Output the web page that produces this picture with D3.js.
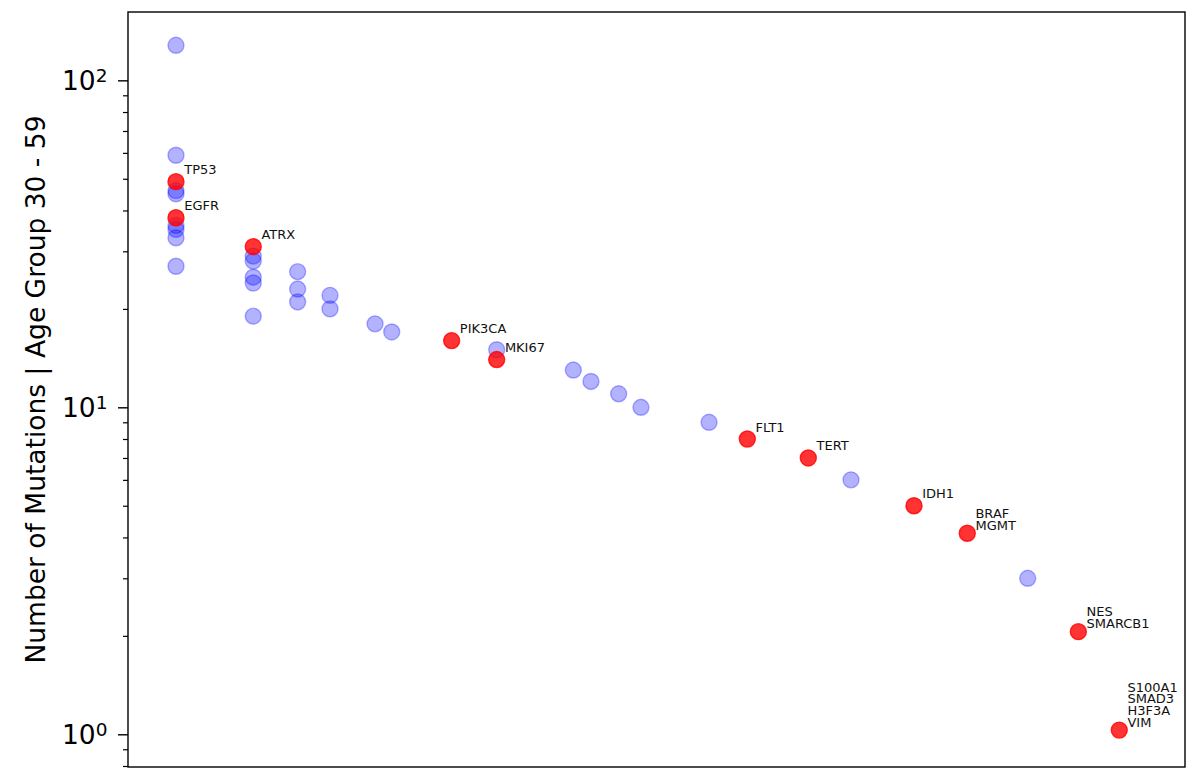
<!DOCTYPE html>
<html>
<head>
<meta charset="utf-8">
<script src="https://cdn.jsdelivr.net/npm/d3@7"></script>
<style>
  html, body { margin: 0; padding: 0; background: #fff; }
  svg { display: block; font-family: "DejaVu Sans", Verdana, sans-serif; }
</style>
</head>
<body>
<svg id="chart" width="1198" height="769"></svg>
<script>
// ---- data ----
// x: arbitrary position along the (unlabelled) horizontal axis, 0..100
const blueX = [4.54, 4.54, 4.54, 4.54, 4.54, 4.54, 4.54, 4.54,
               11.85, 11.85, 11.85, 11.85, 11.85,
               16.05, 16.05, 16.05,
               19.11, 19.11,
               23.37, 24.95,
               34.88,
               42.13, 43.80, 46.42, 48.53,
               54.97, 68.40, 85.12];
const blueY = [128, 59, 46, 45, 36, 35, 33, 27,
               29, 28, 25, 24, 19,
               26, 23, 21,
               22, 20,
               18, 17,
               15,
               13, 12, 11, 10,
               9, 6, 3];

const redLabels = [["TP53"], ["EGFR"], ["ATRX"], ["PIK3CA"], ["MKI67"], ["FLT1"], ["TERT"],
                   ["IDH1"], ["BRAF", "MGMT"], ["NES", "SMARCB1"],
                   ["S100A1", "SMAD3", "H3F3A", "VIM"]];
const redX = [4.54, 4.54, 11.85, 30.62, 34.88, 58.59, 64.36, 74.36, 79.40, 89.91, 93.78];
const redY = [49, 38, 31, 16, 14, 8, 7, 5, 4.12, 2.06, 1.03];

const yTicks = [1, 10, 100];
const yTickExp = ["0", "1", "2"];
const yLabel = "Number of Mutations | Age Group 30 - 59";

// ---- layout ----
const svg = d3.select("#chart");
const plot = { left: 128, right: 1185, top: 12, bottom: 767 };

const x = d3.scaleLinear().domain([0, 100]).range([plot.left, plot.right]);
const y = d3.scaleLog().domain([Math.pow(10, -0.1), Math.pow(10, 2.209)])
            .range([plot.bottom, plot.top]);

// minor ticks
const minor = [];
for (let e = -1; e <= 2; e++) {
  for (let m = 2; m <= 9; m++) {
    const v = m * Math.pow(10, e);
    if (v >= y.domain()[0] && v <= y.domain()[1]) minor.push(v);
  }
}

const gMinor = svg.append("g").attr("transform", `translate(${plot.left},0)`)
  .call(d3.axisLeft(y).tickValues(minor).tickSize(5).tickFormat(""));
gMinor.select(".domain").remove();
gMinor.selectAll("line").attr("stroke", "#000").attr("stroke-width", 1.2);

const gMajor = svg.append("g").attr("transform", `translate(${plot.left},0)`)
  .call(d3.axisLeft(y).tickValues(yTicks).tickSize(10).tickFormat(""));
gMajor.select(".domain").remove();
gMajor.selectAll("line").attr("stroke", "#000").attr("stroke-width", 1.4);

// tick labels with superscripts
const tl = svg.append("g").selectAll("text").data(yTicks).join("text")
  .attr("x", plot.left - 20.5)
  .attr("y", d => y(d) + 9.7)
  .attr("text-anchor", "end")
  .attr("font-size", 26.5)
  .attr("fill", "#000");
tl.append("tspan").text("10");
tl.append("tspan").attr("font-size", 18.5).attr("dy", -8.5).text((d, i) => yTickExp[i]);

// points: blue then red
svg.append("g").selectAll("circle").data(blueX).join("circle")
  .attr("cx", d => x(d))
  .attr("cy", (d, i) => y(blueY[i]))
  .attr("r", 8)
  .attr("fill", "rgba(0,0,255,0.3)")
  .attr("stroke", "rgba(0,0,255,0.3)")
  .attr("stroke-width", 1.4);

svg.append("g").selectAll("circle").data(redX).join("circle")
  .attr("cx", d => x(d))
  .attr("cy", (d, i) => y(redY[i]))
  .attr("r", 8)
  .attr("fill", "rgba(255,0,0,0.8)")
  .attr("stroke", "rgba(255,0,0,0.8)")
  .attr("stroke-width", 1.4);

// labels
const lineH = 11.7;
svg.append("g").selectAll("text").data(redLabels).join("text")
  .attr("font-size", 13)
  .attr("fill", "#111")
  .each(function (lines, i) {
    const t = d3.select(this);
    const px = x(redX[i]) + 8.2;
    const lastBase = y(redY[i]) - (lines.length > 1 ? 3.5 : 7.5);
    lines.forEach((ln, k) => {
      t.append("tspan")
        .attr("x", px)
        .attr("y", lastBase - (lines.length - 1 - k) * lineH)
        .text(ln);
    });
  });

// frame
svg.append("rect")
  .attr("x", plot.left).attr("y", plot.top)
  .attr("width", plot.right - plot.left).attr("height", plot.bottom - plot.top)
  .attr("fill", "none").attr("stroke", "#000").attr("stroke-width", 1.4);

// y label
svg.append("text")
  .attr("transform", `translate(45,${(plot.top + plot.bottom) / 2}) rotate(-90)`)
  .attr("text-anchor", "middle")
  .attr("font-size", 26.5)
  .attr("fill", "#000")
  .text(yLabel);
</script>
</body>
</html>
